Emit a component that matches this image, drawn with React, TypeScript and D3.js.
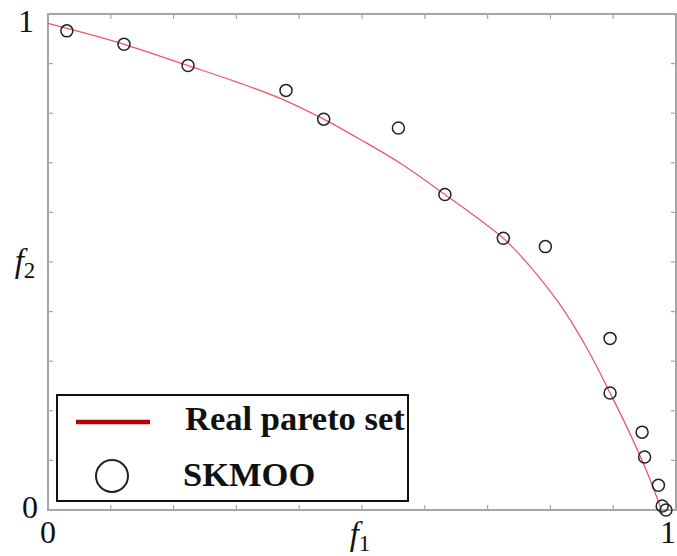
import React from "react";
import * as d3 from "d3";

// SKMOO solutions (f1, f2)
const skmooF1 = [0.030, 0.121, 0.223, 0.379, 0.439, 0.558, 0.632, 0.725, 0.792, 0.895, 0.895, 0.946, 0.950, 0.972, 0.978, 0.984];
const skmooF2 = [0.966, 0.939, 0.896, 0.846, 0.788, 0.770, 0.636, 0.548, 0.531, 0.346, 0.236, 0.157, 0.107, 0.050, 0.008, 0.000];

// Real Pareto front samples
const paretoF1 = [0, 0.121, 0.223, 0.300, 0.379, 0.439, 0.500, 0.561, 0.632, 0.700, 0.725, 0.775, 0.825, 0.860, 0.895, 0.930, 0.955, 0.977];
const paretoF2 = [0.981, 0.939, 0.896, 0.863, 0.825, 0.788, 0.745, 0.699, 0.636, 0.573, 0.548, 0.480, 0.396, 0.322, 0.236, 0.145, 0.073, 0];

const tickValues = [0, 0.1, 0.2, 0.3, 0.4, 0.5, 0.6, 0.7, 0.8, 0.9, 1];
const legendLabels = ["Real pareto set", "SKMOO"];

const W = 677;
const H = 556;
const left = 48;
const right = 676;
const top = 14;
const bottom = 510;
const serif = "'Liberation Serif', 'Times New Roman', serif";

export default function App() {
  const x = d3.scaleLinear().domain([0, 1]).range([left, right]);
  const y = d3.scaleLinear().domain([0, 1]).range([bottom, top]);

  const pareto = paretoF1.map((v, i) => [v, paretoF2[i]] as [number, number]);
  const line = d3
    .line<[number, number]>()
    .x((d) => x(d[0]))
    .y((d) => y(d[1]))
    .curve(d3.curveMonotoneX);

  const axisColor = "#a6a6a6";
  const tl = 5;

  return (
    <svg
      width={W}
      height={H}
      style={{ position: "absolute", left: 0, top: 0, background: "#fff" }}
    >
      {/* frame */}
      <rect x={left} y={top} width={right - left} height={bottom - top} fill="none" stroke={axisColor} strokeWidth={2} />
      {/* ticks on all four sides, pointing inward */}
      {tickValues.slice(1, -1).map((t) => (
        <g key={t} stroke={axisColor} strokeWidth={1.2}>
          <line x1={x(t)} x2={x(t)} y1={bottom} y2={bottom - tl} />
          <line x1={x(t)} x2={x(t)} y1={top} y2={top + tl} />
          <line x1={left} x2={left + tl} y1={y(t)} y2={y(t)} />
          <line x1={right} x2={right - tl} y1={y(t)} y2={y(t)} />
        </g>
      ))}

      {/* tick labels */}
      <g fontFamily={serif} fontSize={32} fill="#111">
        <text x={left - 14} y={y(1) + 18} textAnchor="end">1</text>
        <text x={left - 10} y={y(0) + 8} textAnchor="end">0</text>
        <text x={x(0)} y={bottom + 33} textAnchor="middle">0</text>
        <text x={W - 1} y={bottom + 33} textAnchor="end">1</text>
      </g>

      {/* axis titles */}
      <text x={25} y={y(0.5) + 10} fontFamily={serif} fontSize={33} fontStyle="italic" textAnchor="middle" fill="#111">
        f<tspan fontStyle="normal" fontSize={23} dy={6}>2</tspan>
      </text>
      <text x={x(0.5) - 2} y={bottom + 35} fontFamily={serif} fontSize={33} fontStyle="italic" textAnchor="middle" fill="#111">
        f<tspan fontStyle="normal" fontSize={23} dy={6}>1</tspan>
      </text>

      {/* real pareto front */}
      <path d={line(pareto) ?? ""} fill="none" stroke="#ec5a63" strokeWidth={1.3} />

      {/* SKMOO points */}
      {skmooF1.map((v, i) => (
        <circle key={i} cx={x(v)} cy={y(skmooF2[i])} r={6} fill="none" stroke="#222" strokeWidth={1.5} />
      ))}

      {/* legend */}
      <g>
        <rect x={57} y={395} width={351} height={106} fill="#fff" stroke="#111" strokeWidth={2} />
        <line x1={76} x2={150} y1={422} y2={422} stroke="#b8000f" strokeWidth={4.5} />
        <circle cx={112} cy={476} r={16} fill="none" stroke="#222" strokeWidth={2} />
        <g fontFamily={serif} fontWeight="bold" fontSize={34.5} fill="#111">
          <text x={185} y={430}>{legendLabels[0]}</text>
          <text x={183} y={486}>{legendLabels[1]}</text>
        </g>
      </g>
    </svg>
  );
}
